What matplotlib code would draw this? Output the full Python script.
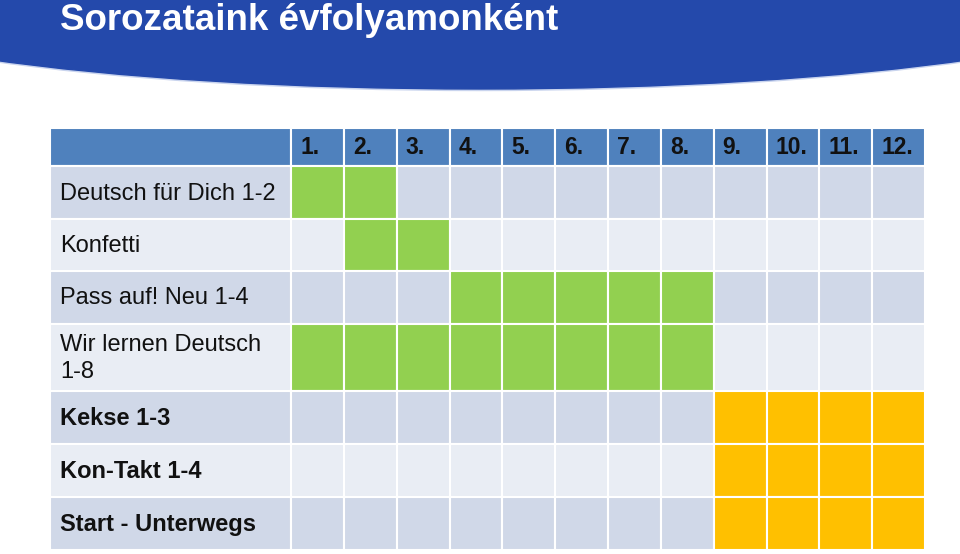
import matplotlib.pyplot as plt
from matplotlib.patches import Rectangle, Ellipse

# --- data -------------------------------------------------------------
title = "Sorozataink évfolyamonként"
grades = ["1.", "2.", "3.", "4.", "5.", "6.", "7.", "8.", "9.", "10.", "11.", "12."]
series = [
    "Deutsch für Dich 1-2",
    "Konfetti",
    "Pass auf! Neu 1-4",
    "Wir lernen Deutsch\n1-8",
    "Kekse 1-3",
    "Kon-Takt 1-4",
    "Start - Unterwegs",
]
grade_from = [1, 2, 4, 1, 9, 9, 9]
grade_to = [2, 3, 8, 8, 12, 12, 12]
stage = ["lower", "lower", "lower", "lower", "upper", "upper", "upper"]

# --- style / layout ---------------------------------------------------
BLUE = "#2449ab"
HEADER = "#4f81bd"
BAND = ["#d0d8e8", "#e9edf4"]
STAGE_COLOR = {"lower": "#92d050", "upper": "#ffc000"}
STAGE_BOLD = {"lower": "normal", "upper": "bold"}
FONT = ["Liberation Sans", "DejaVu Sans"]

left, label_right, right = 50, 291, 925
header_top, header_h = 128, 38
row_heights = [53, 52, 53, 67, 53, 53, 53]
col_w = (right - label_right) / len(grades)

fig = plt.figure(figsize=(9.6, 5.54), dpi=100)
ax = fig.add_axes([0, 0, 1, 1])
ax.set_xlim(0, 960)
ax.set_ylim(554, 0)
ax.axis("off")

# title banner with curved lower edge
ax.add_patch(Ellipse((480, -13), 1400, 207, color="#c9d4ee", zorder=1))
ax.add_patch(Ellipse((480, -14), 1400, 206, color=BLUE, zorder=2))
ax.text(60, 30, title, color="white", fontsize=26.5, fontweight="bold",
        family=FONT, va="baseline", ha="left", zorder=3)


def cell(x, y, w, h, color):
    ax.add_patch(Rectangle((x, y), w, h, facecolor=color, edgecolor="white",
                           linewidth=1.5, zorder=2))


# header row
cell(left, header_top, label_right - left, header_h, HEADER)
for j, g in enumerate(grades):
    x = label_right + j * col_w
    cell(x, header_top, col_w, header_h, HEADER)
    ax.text(x + 9, header_top + header_h / 2 + 1, g, fontsize=16.5,
            fontweight="bold", family=FONT, color="#111111",
            va="center", ha="left", zorder=3)

# body rows
y = header_top + header_h
for i, name in enumerate(series):
    h = row_heights[i]
    band = BAND[i % 2]
    cell(left, y, label_right - left, h, band)
    ax.text(left + 10, y + h / 2 + 1, name, fontsize=17,
            fontweight=STAGE_BOLD[stage[i]], family=FONT, color="#111111",
            va="center", ha="left", linespacing=1.25, zorder=3)
    for j in range(len(grades)):
        g = j + 1
        on = grade_from[i] <= g <= grade_to[i]
        color = STAGE_COLOR[stage[i]] if on else band
        cell(label_right + j * col_w, y, col_w, h, color)
    y += h

fig.savefig("out.png", dpi=100, facecolor="white")
